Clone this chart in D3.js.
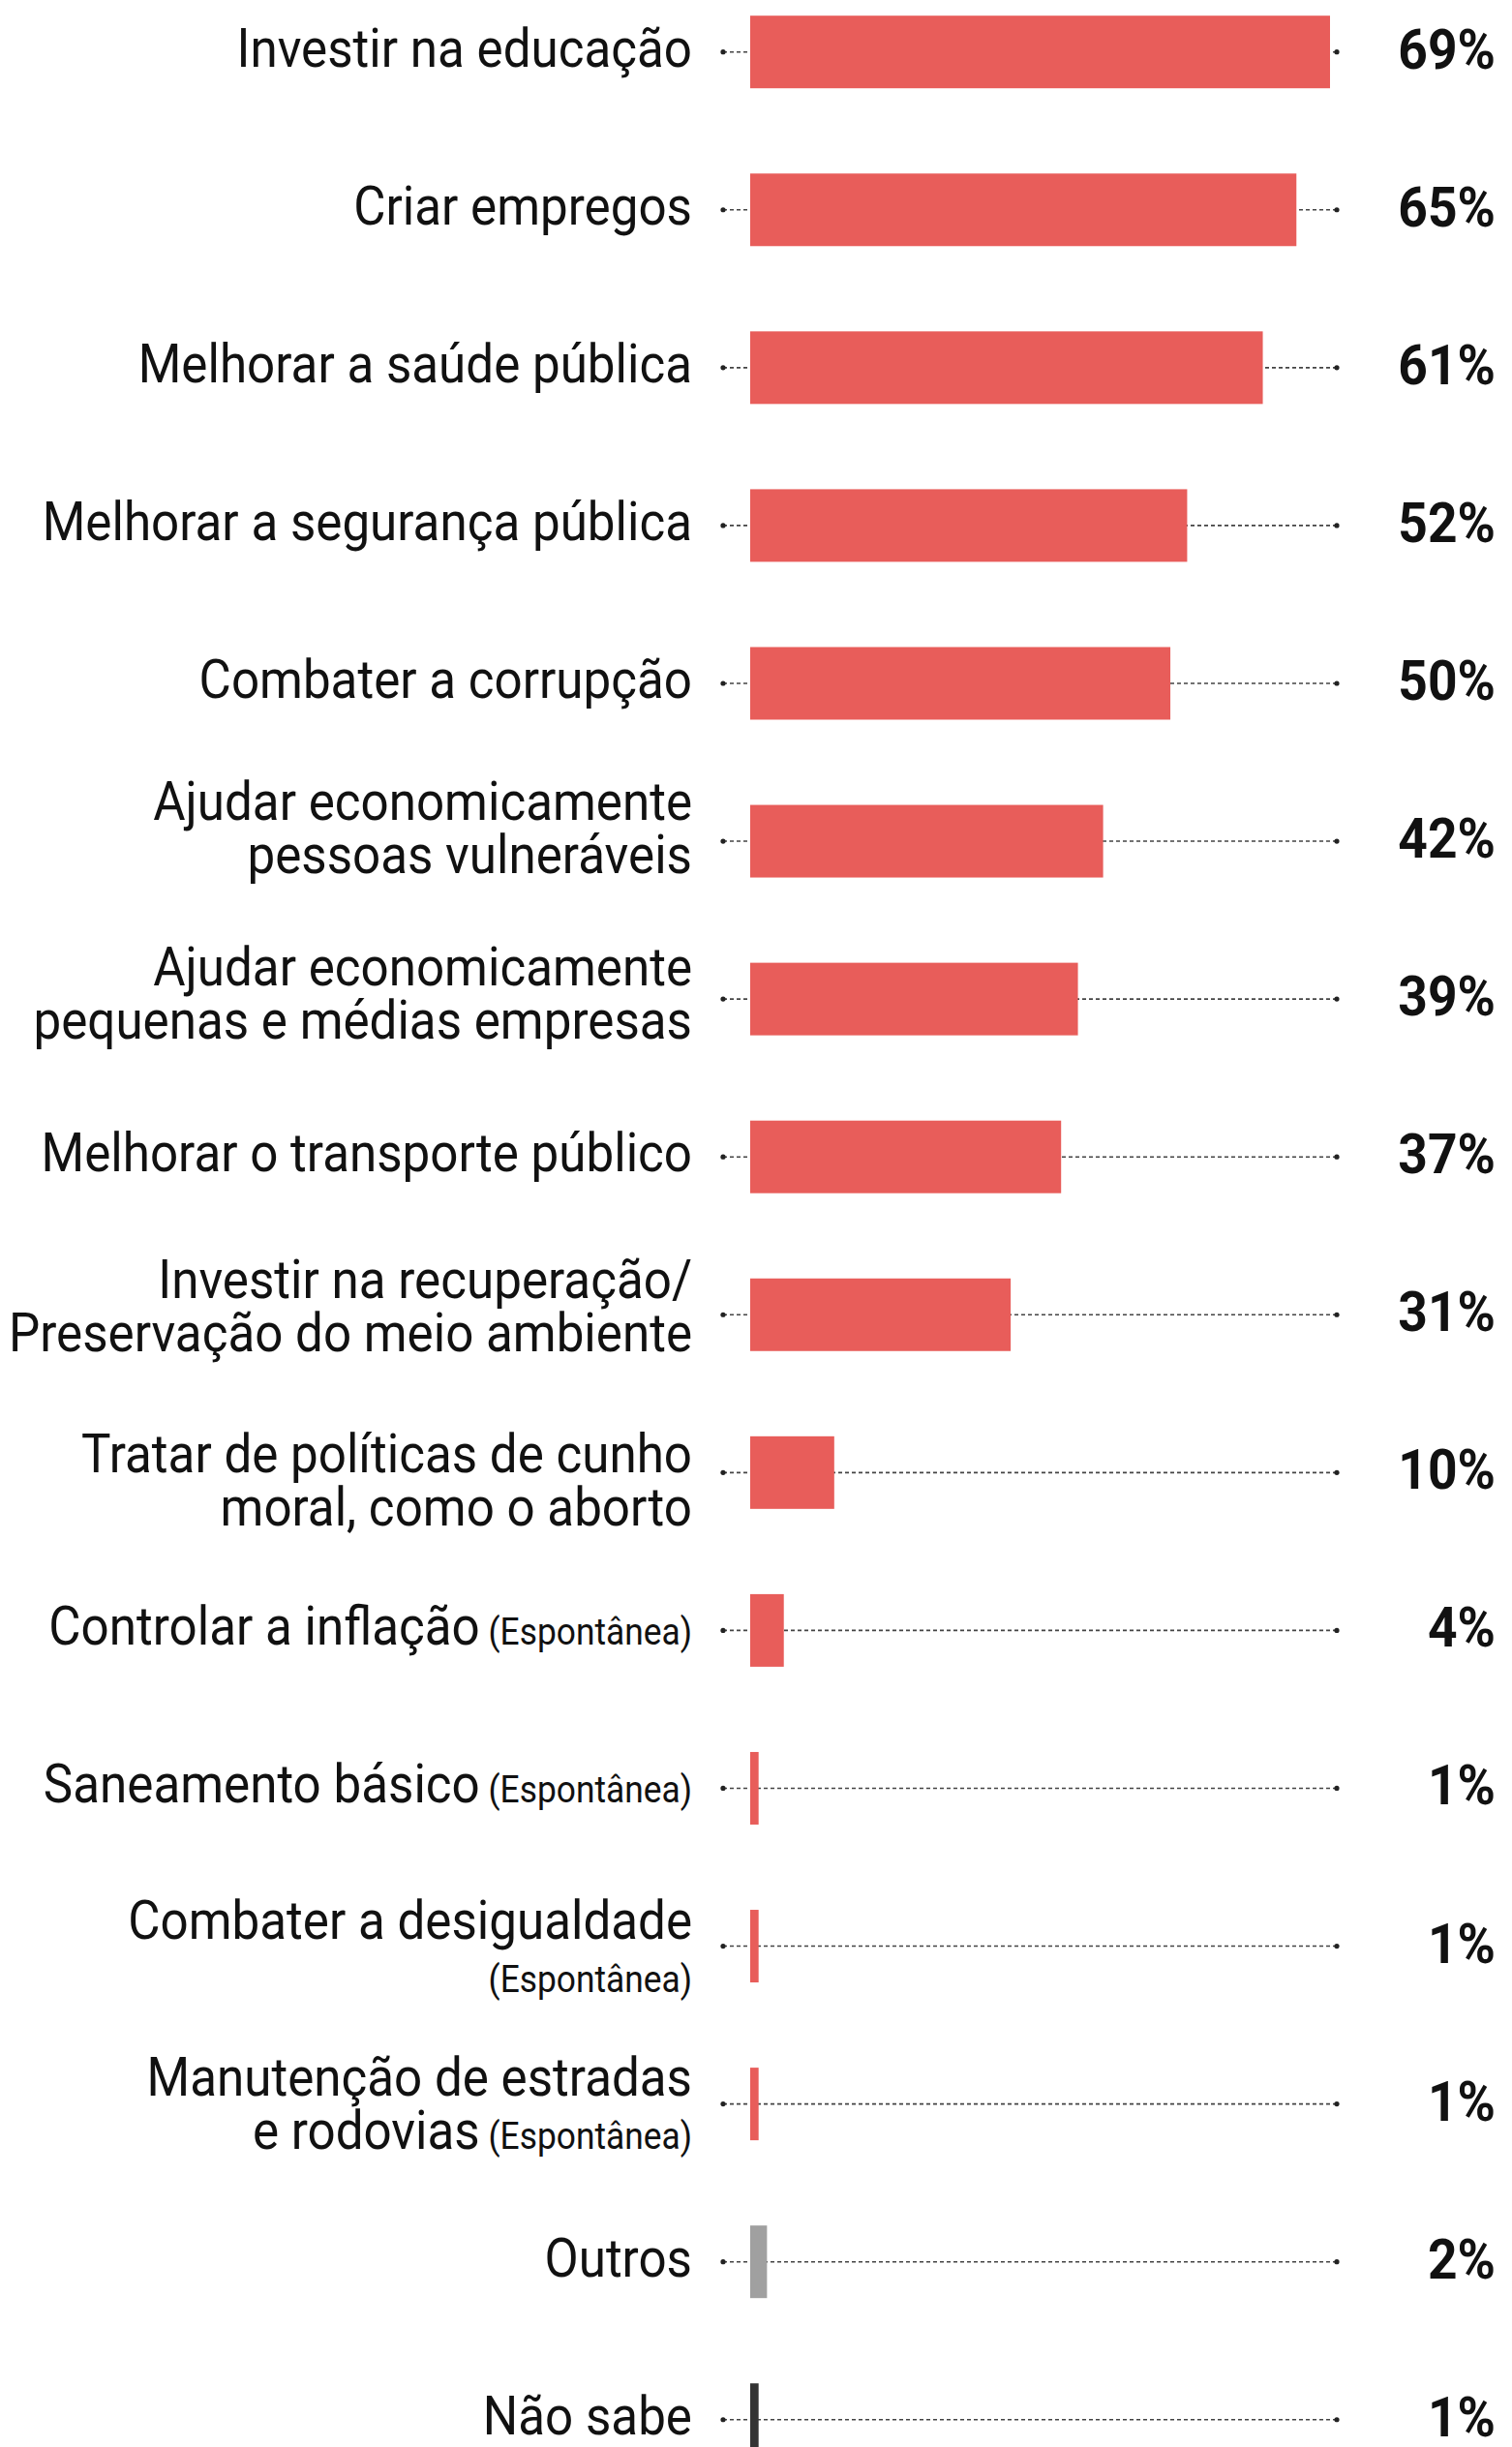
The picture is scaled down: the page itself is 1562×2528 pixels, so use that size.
<!DOCTYPE html>
<html>
<head>
<meta charset="utf-8">
<script src="https://cdn.jsdelivr.net/npm/d3@7"></script>
<style>
  html, body { margin: 0; padding: 0; background: #fff; }
  svg { display: block; }
  .label { font-family: Roboto, "Noto Sans", sans-serif; font-size: 55px; font-weight: 400; fill: #111; }
  .note { font-size: 38px; }
  .value { font-family: Roboto, "Noto Sans", sans-serif; font-size: 58px; font-weight: 700; fill: #111; }
</style>
</head>
<body>
<svg id="chart"></svg>
<script>
// categorias (quebras de linha com \n)
const categories = [
  "Investir na educação",
  "Criar empregos",
  "Melhorar a saúde pública",
  "Melhorar a segurança pública",
  "Combater a corrupção",
  "Ajudar economicamente\npessoas vulneráveis",
  "Ajudar economicamente\npequenas e médias empresas",
  "Melhorar o transporte público",
  "Investir na recuperação/\nPreservação do meio ambiente",
  "Tratar de políticas de cunho\nmoral, como o aborto",
  "Controlar a inflação (Espontânea)",
  "Saneamento básico (Espontânea)",
  "Combater a desigualdade\n(Espontânea)",
  "Manutenção de estradas\ne rodovias (Espontânea)",
  "Outros",
  "Não sabe"
];
const values = [69, 65, 61, 52, 50, 42, 39, 37, 31, 10, 4, 1, 1, 1, 2, 1];
const groups = ["tema", "tema", "tema", "tema", "tema", "tema", "tema", "tema",
                "tema", "tema", "tema", "tema", "tema", "tema", "outros", "naosabe"];
const valueLabels = values.map(v => v + "%");

const width = 1562, height = 2528;
const data = categories.map((c, i) => ({ cat: c, value: values[i], group: groups[i], label: valueLabels[i] }));

// deslocamento vertical da primeira linha do rótulo em relação ao centro da barra
const firstLineDy = {
  "Ajudar economicamente\npessoas vulneráveis": -22,
  "Ajudar economicamente\npequenas e médias empresas": -14,
  "Investir na recuperação/\nPreservação do meio ambiente": -17,
  "Tratar de políticas de cunho\nmoral, como o aborto": 0,
  "Combater a desigualdade\n(Espontânea)": -8,
  "Manutenção de estradas\ne rodovias (Espontânea)": -9
};
const singleLineDy = 15;
const lineGap = 55;
const labelScale = 0.93, valueScale = 0.92;

const svg = d3.select("#chart").attr("width", width).attr("height", height);

const x = d3.scaleLinear().domain([0, 69]).range([775, 1374]);
const y = d3.scaleBand()
  .domain(d3.range(categories.length))
  .range([16.2, 16.2 + 15 * 163.07 + 75])
  .paddingInner(1 - 75 / 163.07)
  .paddingOuter(0);
const color = d3.scaleOrdinal()
  .domain(["tema", "outros", "naosabe"])
  .range(["#e85d5a", "#a0a0a0", "#333333"]);

const rows = svg.selectAll("g.row")
  .data(data)
  .join("g")
  .attr("class", "row")
  .attr("transform", (d, i) => `translate(0,${y(i) + y.bandwidth() / 2})`);

// linha pontilhada
rows.append("line")
  .attr("x1", 747).attr("x2", 1381)
  .attr("stroke", "#444")
  .attr("stroke-width", 1.6)
  .attr("stroke-dasharray", "4,3");
rows.selectAll("circle.end")
  .data([747, 1381])
  .join("circle")
  .attr("class", "end")
  .attr("cx", d => d).attr("cy", 0).attr("r", 2.6)
  .attr("fill", "#222");

// barras
rows.append("rect")
  .attr("x", x(0))
  .attr("y", -y.bandwidth() / 2)
  .attr("width", d => x(d.value) - x(0))
  .attr("height", y.bandwidth())
  .attr("fill", d => color(d.group));

// rótulos
rows.each(function (d) {
  const g = d3.select(this).append("g")
    .attr("transform", `translate(715,0) scale(${labelScale},1)`);
  const lines = d.cat.split("\n");
  const dy0 = lines.length > 1 ? firstLineDy[d.cat] : singleLineDy;
  const text = g.append("text").attr("class", "label").attr("text-anchor", "end");
  lines.forEach((line, k) => {
    const m = line.match(/^(.*?)\s*(\(Espontânea\))?$/);
    const tl = text.append("tspan").attr("x", 0).attr("y", dy0 + k * lineGap);
    if (m[1]) tl.append("tspan").text(m[1]);
    if (m[2]) tl.append("tspan").attr("class", "note").text((m[1] ? " " : "") + m[2]);
  });
});

// valores
rows.append("g")
  .attr("transform", `translate(1545,17) scale(${valueScale},1)`)
  .append("text")
  .attr("class", "value")
  .attr("text-anchor", "end")
  .text(d => d.label);
</script>
</body>
</html>
